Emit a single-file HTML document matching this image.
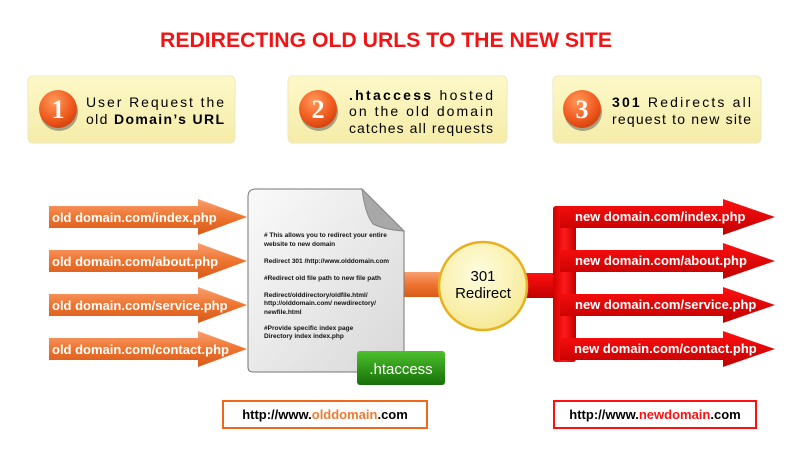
<!DOCTYPE html>
<html><head><style>
body{margin:0;background:#fff;}
svg{display:block;}
text{font-family:"Liberation Sans",sans-serif;}
</style></head><body>
<svg width="800" height="460" viewBox="0 0 800 460" xmlns="http://www.w3.org/2000/svg">
<defs>
<linearGradient id="box" x1="0" y1="0" x2="0" y2="1"><stop offset="0" stop-color="#fdf8c8"/><stop offset="1" stop-color="#f5eca8"/></linearGradient>
<radialGradient id="ball" cx="0.4" cy="0.3" r="0.8"><stop offset="0" stop-color="#ff9a5a"/><stop offset="0.6" stop-color="#f05a1e"/><stop offset="1" stop-color="#c83c0a"/></radialGradient>
<linearGradient id="or" x1="0" y1="0" x2="0" y2="1"><stop offset="0" stop-color="#f8a070"/><stop offset="0.5" stop-color="#ee7430"/><stop offset="1" stop-color="#d85a18"/></linearGradient>
<linearGradient id="rd" x1="0" y1="0" x2="0" y2="1"><stop offset="0" stop-color="#ff1010"/><stop offset="1" stop-color="#c00000"/></linearGradient>
<linearGradient id="rdv" x1="0" y1="0" x2="1" y2="0"><stop offset="0" stop-color="#d00000"/><stop offset="0.5" stop-color="#ff1a1a"/><stop offset="1" stop-color="#c00000"/></linearGradient>
<linearGradient id="doc" x1="0" y1="0" x2="1" y2="1"><stop offset="0" stop-color="#fafafa"/><stop offset="1" stop-color="#d8d8d8"/></linearGradient>
<radialGradient id="circ" cx="0.45" cy="0.35" r="0.7"><stop offset="0" stop-color="#fffde0"/><stop offset="1" stop-color="#f5e890"/></radialGradient>
<linearGradient id="gr" x1="0" y1="0" x2="0" y2="1"><stop offset="0" stop-color="#4cc02c"/><stop offset="1" stop-color="#17700a"/></linearGradient>
</defs>

<text x="386" y="47" text-anchor="middle" font-size="21" font-weight="bold" fill="#f21414" textLength="452" lengthAdjust="spacingAndGlyphs">REDIRECTING OLD URLS TO THE NEW SITE</text>

<!-- step boxes -->
<rect x="28" y="76" width="207" height="67" rx="5" fill="url(#box)" stroke="#eee8c0"/>
<rect x="288" y="76" width="219" height="67" rx="5" fill="url(#box)" stroke="#eee8c0"/>
<rect x="553" y="76" width="208" height="67" rx="5" fill="url(#box)" stroke="#eee8c0"/>
<g font-weight="bold" font-size="26" fill="#fff" text-anchor="middle">
<circle cx="59" cy="112" r="19" fill="#555" opacity="0.5"/><circle cx="58" cy="109" r="19" fill="url(#ball)"/><text x="58" y="118" style="font-family:'Liberation Serif'">1</text>
<circle cx="319" cy="112" r="19" fill="#555" opacity="0.5"/><circle cx="318" cy="109" r="19" fill="url(#ball)"/><text x="318" y="118" style="font-family:'Liberation Serif'">2</text>
<circle cx="583" cy="112" r="19" fill="#555" opacity="0.5"/><circle cx="582" cy="109" r="19" fill="url(#ball)"/><text x="582" y="118" style="font-family:'Liberation Serif'">3</text>
</g>
<g font-size="14" fill="#000">
<text x="86" y="107" textLength="138" lengthAdjust="spacing">User Request the</text>
<text x="86" y="124" textLength="138" lengthAdjust="spacing">old <tspan font-weight="bold">Domain’s URL</tspan></text>
<text x="349" y="100" textLength="144" lengthAdjust="spacing"><tspan font-weight="bold">.htaccess</tspan>   hosted</text>
<text x="349" y="116" textLength="144" lengthAdjust="spacing">on the old domain</text>
<text x="349" y="133" textLength="144" lengthAdjust="spacing">catches all requests</text>
<text x="612" y="107" textLength="139" lengthAdjust="spacing"><tspan font-weight="bold">301</tspan>  Redirects all</text>
<text x="612" y="124" textLength="139" lengthAdjust="spacing">request to new site</text>
</g>

<!-- orange arrows -->
<g fill="url(#or)">
<path d="M49 206 H198 V199 L247 217 L198 235 V228 H49Z"/>
<path d="M49 250 H198 V243 L247 261 L198 279 V272 H49Z"/>
<path d="M49 294 H198 V287 L247 305 L198 323 V316 H49Z"/>
<path d="M49 338 H198 V331 L247 349 L198 367 V360 H49Z"/>
</g>
<g font-size="13" font-weight="bold" fill="#fff">
<text x="52" y="222">old domain.com/index.php</text>
<text x="52" y="266">old domain.com/about.php</text>
<text x="52" y="310">old domain.com/service.php</text>
<text x="52" y="354">old domain.com/contact.php</text>
</g>

<!-- connector -->
<rect x="400" y="272" width="45" height="25" fill="url(#or)"/>
<rect x="515" y="273" width="45" height="25" fill="url(#rd)"/>

<!-- document -->
<path d="M256 189 H362 L404 231 V367 Q404 372 399 372 H253 Q248 372 248 367 V197 Q248 189 256 189Z" fill="url(#doc)" stroke="#777" stroke-width="1"/>
<path d="M362 189 Q365 214 373 224 Q385 230 404 231 Z" fill="#a8a8a8" stroke="#888"/>
<g font-size="6.5" fill="#111" font-weight="bold">
<text x="264" y="237">#  This allows you to redirect your entire</text>
<text x="264" y="246">website to new domain</text>
<text x="264" y="263">Redirect 301 /http://www.olddomain.com</text>
<text x="264" y="280">#Redirect old file path to new file path</text>
<text x="264" y="297">Redirect/olddirectory/oldfile.html/</text>
<text x="264" y="305">http://olddomain.com/ newdirectory/</text>
<text x="264" y="314">newfile.html</text>
<text x="264" y="330">#Provide specific index page</text>
<text x="264" y="338">Directory index index.php</text>
</g>
<rect x="357" y="351" width="88" height="34" rx="3" fill="url(#gr)"/>
<text x="401" y="374" text-anchor="middle" font-size="15" fill="#fff">.htaccess</text>

<!-- circle -->
<circle cx="483" cy="286" r="44" fill="url(#circ)" stroke="#e8b020" stroke-width="2.5"/>
<text x="483" y="281" text-anchor="middle" font-size="15" fill="#000">301</text>
<text x="483" y="298" text-anchor="middle" font-size="15" fill="#000">Redirect</text>

<!-- red arrows -->
<rect x="553" y="206" width="23" height="156" rx="3" fill="url(#rdv)"/>
<g fill="url(#rd)">
<path d="M560 206 H723 V199 L775 217 L723 235 V228 H560Z"/>
<path d="M560 250 H723 V243 L775 261 L723 279 V272 H560Z"/>
<path d="M560 294 H723 V287 L775 305 L723 323 V316 H560Z"/>
<path d="M560 338 H723 V331 L775 349 L723 367 V360 H560Z"/>
</g>
<g font-size="13" font-weight="bold" fill="#fff">
<text x="575" y="221">new domain.com/index.php</text>
<text x="575" y="265">new domain.com/about.php</text>
<text x="575" y="309">new domain.com/service.php</text>
<text x="574" y="353">new domain.com/contact.php</text>
</g>

<!-- bottom url boxes -->
<rect x="223" y="401" width="204" height="27" fill="#fff" stroke="#ee6a1a" stroke-width="2"/>
<text x="325" y="419" text-anchor="middle" font-size="13" font-weight="bold" fill="#000">http://www.<tspan fill="#ef7a30">olddomain</tspan>.com</text>
<rect x="554" y="401" width="202" height="27" fill="#fff" stroke="#ff1010" stroke-width="2"/>
<text x="655" y="419" text-anchor="middle" font-size="13" font-weight="bold" fill="#000">http://www.<tspan fill="#ff1010">newdomain</tspan>.com</text>
</svg>
</body></html>
